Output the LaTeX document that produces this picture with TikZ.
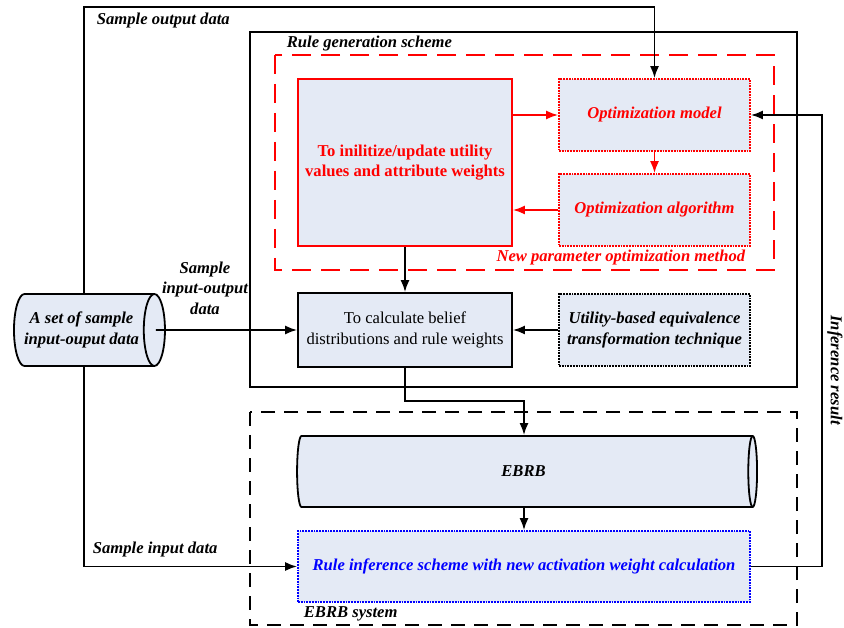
\documentclass[tikz,border=0pt]{standalone}
\usepackage{fontspec}
\setmainfont{Liberation Serif}
\usetikzlibrary{shapes.geometric,arrows.meta}
\definecolor{boxfill}{RGB}{228,234,245}

\begin{document}
\begin{tikzpicture}[x=1pt,y=-1pt,font=\fontsize{16.6}{20.5}\selectfont,
  line width=1.8pt,>={Latex[length=12pt,width=9pt]}]
  \useasboundingbox (0,0) rectangle (844,628);
  \tikzstyle{Box}=[draw,fill=boxfill,align=center,inner sep=2pt]
  \tikzstyle{RedBox}=[Box,draw=red,text=red,font=\fontsize{16.6}{20.5}\selectfont\bfseries]
  \tikzstyle{DotBox}=[Box,densely dotted,font=\fontsize{16.6}{20.5}\selectfont\bfseries\itshape]
  \tikzstyle{Store}=[cylinder,draw,aspect=0.5,cylinder uses custom fill,
    cylinder body fill=boxfill,cylinder end fill=boxfill,align=center,
    font=\fontsize{16.6}{20.5}\selectfont\bfseries\itshape]
  \tikzstyle{Label}=[font=\fontsize{16.6}{20.5}\selectfont\bfseries\itshape,inner sep=0pt]
  % frames
  \draw (250,32) rectangle (797,387);
  \draw[red,dash pattern=on 19pt off 10pt] (275,55) rectangle (774,270);
  \draw[dash pattern=on 14pt off 9pt] (250,412) rectangle (797,625);
  % nodes
  \node[RedBox,minimum width=214pt,minimum height=167pt] (init) at (405,162.5)
    {To inilitize/update utility\\values and attribute weights};
  \node[DotBox,draw=red,text=red,minimum width=191pt,minimum height=72pt] (model) at (654.5,115)
    {Optimization model};
  \node[DotBox,draw=red,text=red,minimum width=191pt,minimum height=72pt] (algo) at (654.5,210)
    {Optimization algorithm};
  \node[Box,minimum width=214pt,minimum height=74pt] (calc) at (405,330)
    {To calculate belief\\distributions and rule weights};
  \node[DotBox,minimum width=191pt,minimum height=72pt] (util) at (654.5,330)
    {Utility-based equivalence\\transformation technique};
  \node[Store,minimum width=72pt,minimum height=151pt] (data) at (81.5,330)
    {A set of sample\\input-ouput data};
  \node[Store,minimum width=71pt,minimum height=460pt] (ebrb) at (523.5,471.5) {EBRB};
  \node[DotBox,draw=blue,text=blue,minimum width=452pt,minimum height=71pt] (infer) at (524,566.5)
    {Rule inference scheme with new activation weight calculation};
  % labels
  \node[Label,anchor=west] (genlbl) at (286,44) {Rule generation scheme};
  \node[Label,anchor=east,text=red] (optlbl) at (746,258) {New parameter optimization method};
  \node[Label,anchor=west] (syslbl) at (303,614) {EBRB system};
  \node[Label,anchor=west] (outlbl) at (96,21) {Sample output data};
  \node[Label,anchor=west] (inlbl) at (92,550) {Sample input data};
  \node[Label,align=center] (iolbl) at (205,288) {Sample\\input-output\\data};
  \node[Label,rotate=-90] (reslbl) at (835,370) {Inference result};
  % connectors
  \coordinate (outtop) at (84,7);
  \coordinate (inbot) at (84,566.5);
  \coordinate (fb) at (822,115);
  \draw[->] (data.north -| outtop) -- (outtop) -| (model.north);
  \draw[->] (data.south -| inbot) -- (inbot) -- (infer.west);
  \draw[->] ([xshift=-10pt]data.east) -- (calc.west);
  \draw[->] (init.south) -- (calc.north);
  \draw[->,red] (model.west -| init.east) -- (model.west);
  \draw[->,red] (model.south) -- (algo.north);
  \draw[->,red] (algo.west) -- (algo.west -| init.east);
  \draw[->] (util.west) -- (calc.east);
  \draw[->] (calc.south) -- ++(0,33) -| (infer.north |- ebrb.north);
  \draw[->] (ebrb.south -| infer.north) -- (infer.north);
  \draw[->] (infer.east) -| (fb) -- (model.east);
\end{tikzpicture}
\end{document}
